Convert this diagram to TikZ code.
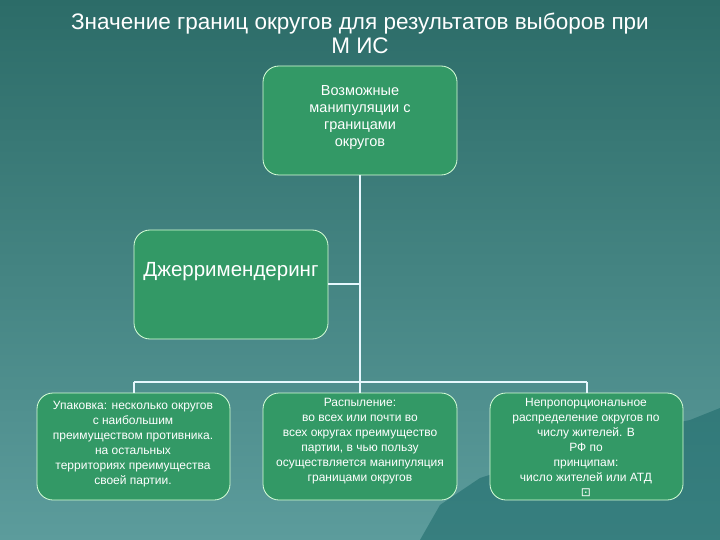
\documentclass[tikz,border=0pt]{standalone}
\usepackage{fontspec}
\setmainfont{Liberation Sans}
\newfontfamily\symfont{DejaVu Sans}
\begin{document}
\begin{tikzpicture}[x=1pt,y=-1pt,
  box/.style={draw=white!85!green, line width=0.8pt, fill=boxgreen, rounded corners=16pt, text=white, align=center, anchor=north west, inner sep=0pt},
  conn/.style={draw=white!90!cyan, line width=2pt}]
\definecolor{boxgreen}{HTML}{339966}
\definecolor{bgtop}{HTML}{2C6C68}
\definecolor{bgbot}{HTML}{5C9C9C}
\definecolor{mount}{HTML}{1F6C6C}
\useasboundingbox (0,0) rectangle (720,540);
\shade[top color=bgtop, bottom color=bgbot] (0,0) rectangle (720,540);
\fill[mount, opacity=0.6] (420,540) -- (440,505) -- (480,478) -- (530,462) -- (570,440) -- (610,432) -- (650,428) -- (690,420) -- (720,408) -- (720,540) -- cycle;
\node[text=white, font=\fontsize{22.5}{24}\selectfont, align=center, anchor=north] (title) at (360,9) {Значение границ округов для результатов выборов при\\М ИС};
% boxes
\draw[box] (263,66) rectangle (457,175);
\node[text=white, font=\fontsize{14.5}{17}\selectfont, align=center, anchor=north] (top) at (360,82) {Возможные\\манипуляции с\\границами\\округов};
\coordinate (topb) at (360,175);
\draw[box] (134,230) rectangle (328,339);
\node[text=white, font=\fontsize{20.5}{22}\selectfont, anchor=center] (dz) at (231,272) {Джерримендеринг};
\coordinate (dzr) at (328,284);
\draw[box] (37,393) rectangle (230,500);
\node[text=white, font=\fontsize{12}{15}\selectfont, align=center, anchor=north] (b1) at (133,398) {Упаковка: несколько округов\\с наибольшим\\преимуществом противника.\\на остальных\\территориях преимущества\\своей партии.};
\draw[box] (263,393) rectangle (457,500);
\node[text=white, font=\fontsize{12}{15}\selectfont, align=center, anchor=north] (b2) at (360,395) {Распыление:\\во всех или почти во\\всех округах преимущество\\партии, в чью пользу\\осуществляется манипуляция\\границами округов};
\draw[box] (490,393) rectangle (683,500);
\node[text=white, font=\fontsize{12}{15}\selectfont, align=center, anchor=north] (b3) at (586,395) {Непропорциональное\\распределение округов по\\числу жителей. В\\РФ по\\принципам:\\число жителей или АТД\\{\symfont ⊡}};
% connectors
\coordinate (j) at (360,382);
\coordinate (l) at (134,382);
\coordinate (r) at (587,382);
\draw[conn] (topb) -- (j);
\draw[conn] (dzr) -- (360,284);
\draw[conn] (l) -- (r);
\draw[conn] (l) -- (134,393);
\draw[conn] (j) -- (360,393);
\draw[conn] (r) -- (587,393);
\end{tikzpicture}
\end{document}
